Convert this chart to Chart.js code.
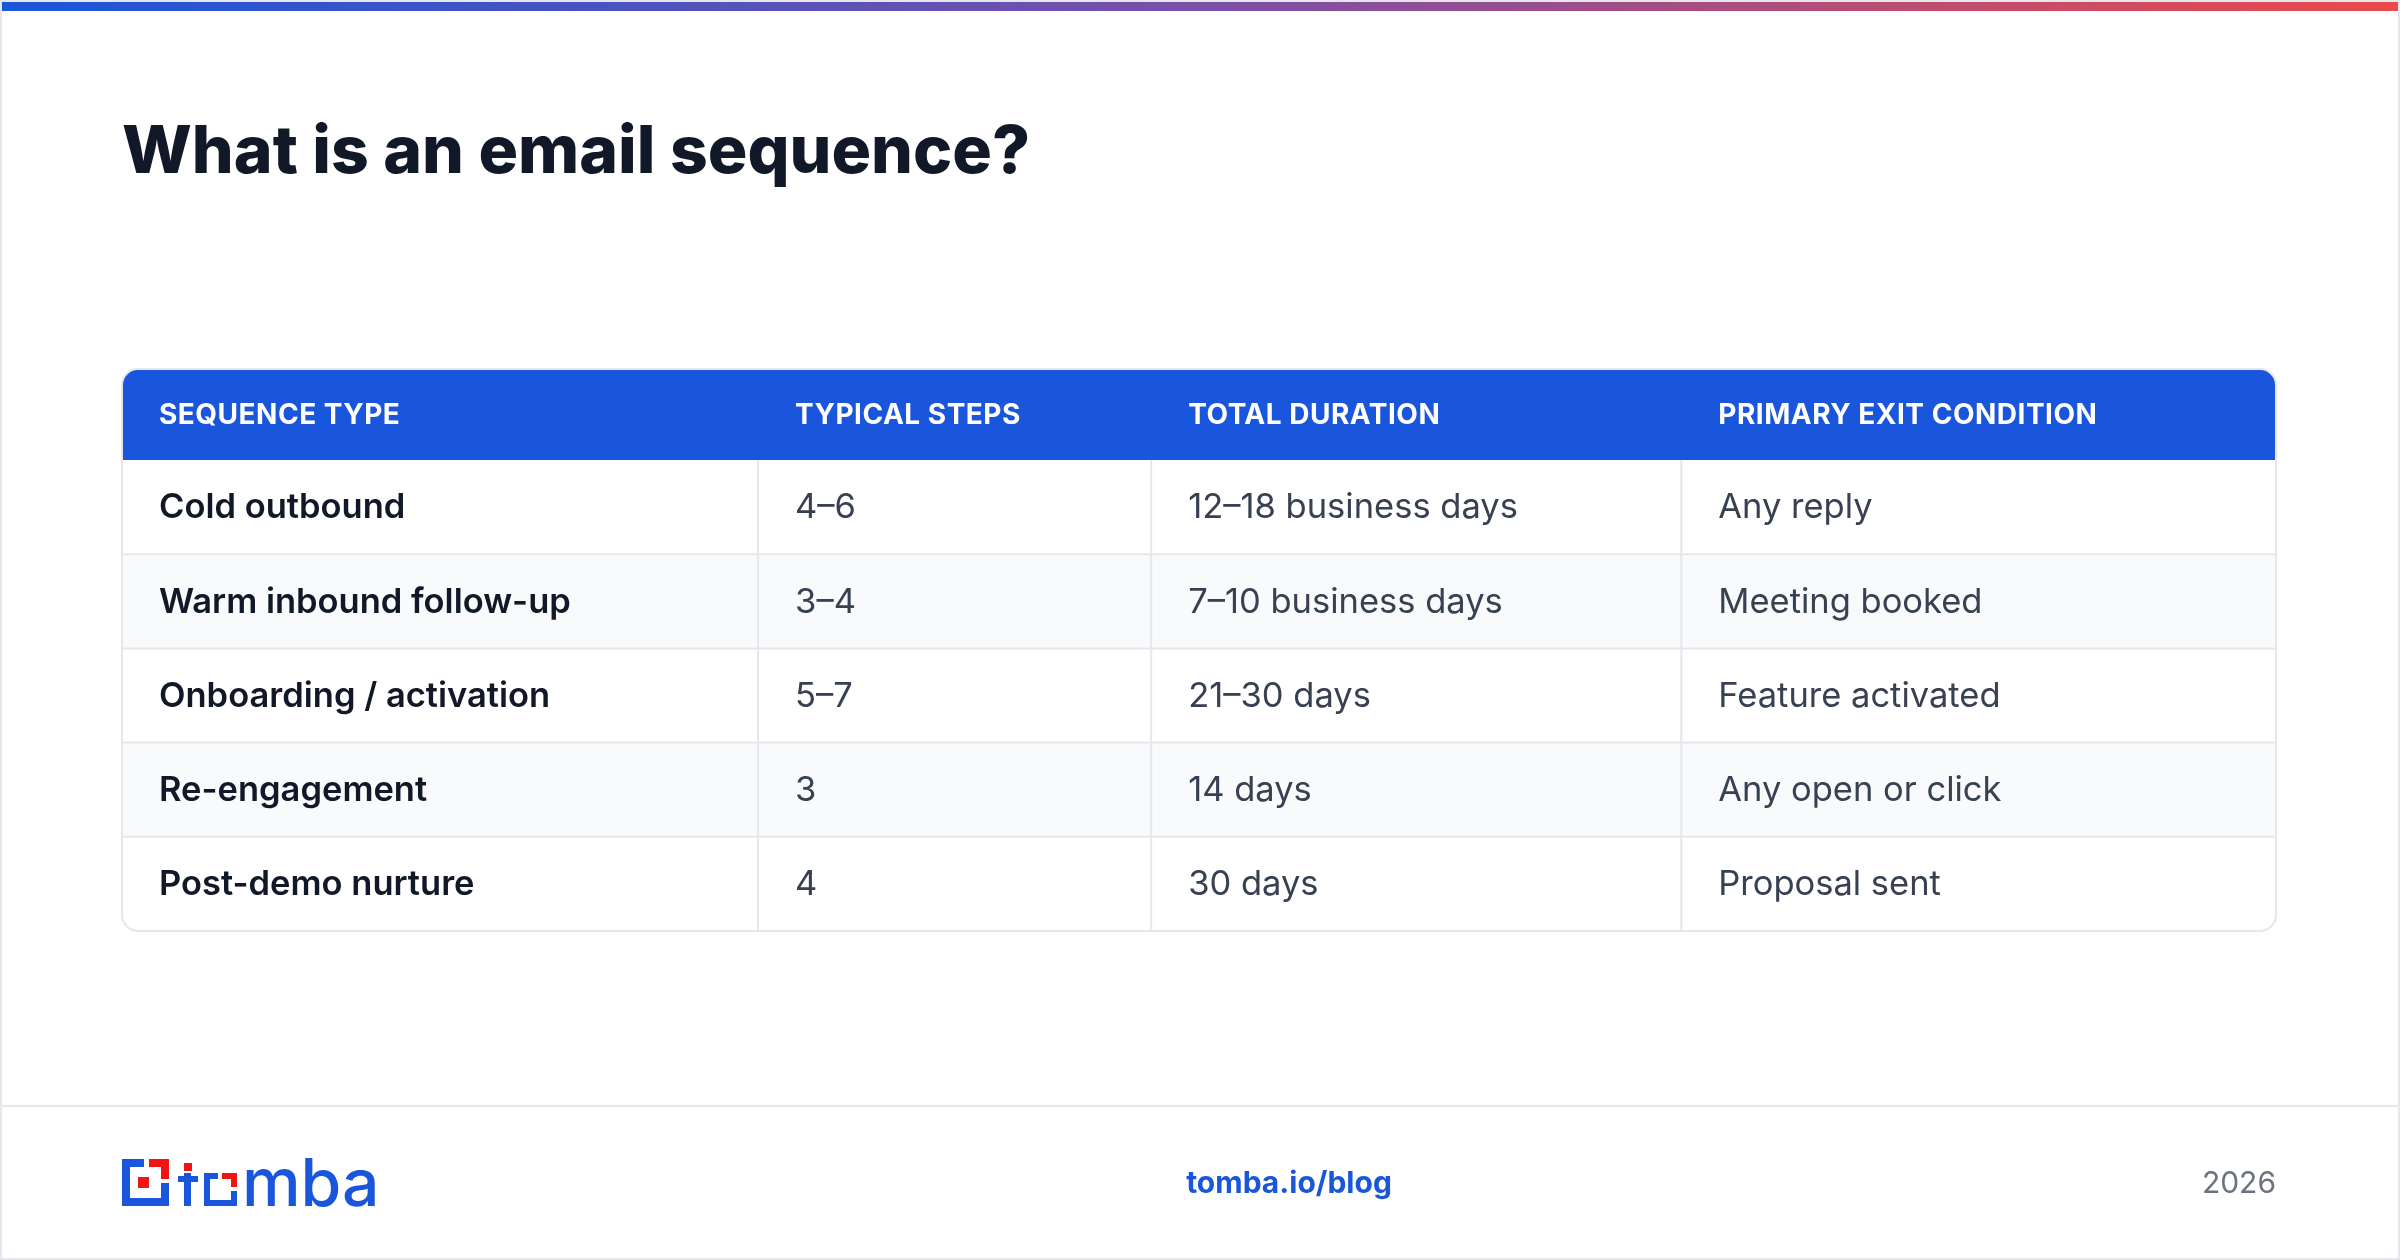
<!DOCTYPE html>
<html>
<head>
<meta charset="utf-8">
<script src="https://cdn.jsdelivr.net/npm/chart.js@4.4.1/dist/chart.umd.min.js"></script>
<style>
  html, body { margin: 0; padding: 0; background: #fff; }
  #wrap { width: 2400px; height: 1260px; position: relative; }
</style>
</head>
<body>
<div id="wrap"><canvas id="table" width="2400" height="1260"></canvas></div>
<script>
// Table content
const headers = ['SEQUENCE TYPE', 'TYPICAL STEPS', 'TOTAL DURATION', 'PRIMARY EXIT CONDITION'];
const sequenceTypes = ['Cold outbound', 'Warm inbound follow-up', 'Onboarding / activation', 'Re-engagement', 'Post-demo nurture'];
const typicalSteps = ['4–6', '3–4', '5–7', '3', '4'];
const totalDuration = ['12–18 business days', '7–10 business days', '21–30 days', '14 days', '30 days'];
const exitCondition = ['Any reply', 'Meeting booked', 'Feature activated', 'Any open or click', 'Proposal sent'];

// Layout (column start positions as fraction of table width)
const colStarts = [0, 0.2953, 0.4778, 0.7239];
const FONT = 'Inter, "Noto Sans", sans-serif';

const tablePlugin = {
  id: 'tablePlugin',
  beforeDraw(chart) {
    const ctx = chart.ctx;
    const x = chart.scales.x, y = chart.scales.y;
    const left = x.getPixelForValue(0), right = x.getPixelForValue(1);
    const W = chart.width, H = chart.height;
    ctx.save();
    ctx.fillStyle = '#fff';
    ctx.fillRect(0, 0, W, H);

    // top gradient bar
    const g = ctx.createLinearGradient(0, 0, W, 0);
    g.addColorStop(0, '#1a56db');
    g.addColorStop(0.5, '#7a4fa8');
    g.addColorStop(1, '#ea4a4a');
    ctx.fillStyle = g;
    ctx.fillRect(0, 0, W, 11);

    // outer frame
    ctx.strokeStyle = '#e5e7eb';
    ctx.lineWidth = 2;
    ctx.strokeRect(1, 1, W - 2, H - 2);

    // title
    ctx.fillStyle = '#111827';
    ctx.font = `800 66px ${FONT}`;
    ctx.textBaseline = 'middle';
    ctx.textAlign = 'left';
    ctx.fillText('What is an email sequence?', 122, 153);

    const rowH = y.getPixelForValue(1) - y.getPixelForValue(0);
    const bodyTop = y.getPixelForValue(0) - rowH / 2;
    const bodyBottom = y.getPixelForValue(sequenceTypes.length - 1) + rowH / 2;
    const headTop = 369, r = 16;

    // table outline clip
    ctx.beginPath();
    ctx.roundRect(left, headTop, right - left, bodyBottom - headTop, r);
    ctx.save();
    ctx.clip();
    ctx.fillStyle = '#1a56db';
    ctx.fillRect(left, headTop, right - left, bodyTop - headTop);
    sequenceTypes.forEach((_, i) => {
      const cy = y.getPixelForValue(i);
      ctx.fillStyle = i % 2 ? '#f8fafc' : '#ffffff';
      ctx.fillRect(left, cy - rowH / 2, right - left, rowH);
    });
    ctx.restore();

    // grid lines
    ctx.strokeStyle = '#e5e7eb';
    ctx.lineWidth = 2;
    for (let i = 1; i < sequenceTypes.length; i++) {
      const ly = y.getPixelForValue(i) - rowH / 2;
      ctx.beginPath(); ctx.moveTo(left, ly); ctx.lineTo(right, ly); ctx.stroke();
    }
    colStarts.slice(1).forEach(c => {
      const lx = x.getPixelForValue(c);
      ctx.beginPath(); ctx.moveTo(lx, bodyTop); ctx.lineTo(lx, bodyBottom); ctx.stroke();
    });
    ctx.beginPath();
    ctx.roundRect(left, headTop, right - left, bodyBottom - headTop, r);
    ctx.stroke();

    // header text
    const pad = 37;
    ctx.fillStyle = '#ffffff';
    ctx.font = `700 28px ${FONT}`;
    ctx.letterSpacing = '0.5px';
    headers.forEach((h, j) => {
      ctx.fillText(h, x.getPixelForValue(colStarts[j]) + pad, (headTop + bodyTop) / 2 + 1);
    });
    ctx.letterSpacing = '0px';

    // body text
    const cols = [sequenceTypes, typicalSteps, totalDuration, exitCondition];
    cols.forEach((col, j) => {
      ctx.font = j === 0 ? `600 34.5px ${FONT}` : `400 34.5px ${FONT}`;
      ctx.fillStyle = j === 0 ? '#111827' : '#374151';
      col.forEach((t, i) => {
        ctx.fillText(t, x.getPixelForValue(colStarts[j]) + pad, y.getPixelForValue(i) + 1);
      });
    });

    // footer
    ctx.strokeStyle = '#e5e7eb';
    ctx.beginPath(); ctx.moveTo(0, 1106); ctx.lineTo(W, 1106); ctx.stroke();
    const fy = 1184;
    ctx.font = `700 30px ${FONT}`;
    ctx.fillStyle = '#1a56db';
    ctx.textAlign = 'center';
    ctx.fillText('tomba.io/blog', 1289, fy);
    ctx.textAlign = 'right';
    ctx.font = `400 30px ${FONT}`;
    ctx.fillStyle = '#6b7280';
    ctx.fillText('2026', 2276, fy);

    // logo
    const blue = '#1a56db', red = '#f01414';
    ctx.fillStyle = blue;
    const lx = 122, ly = 1159, s = 47, t = 8;
    ctx.fillRect(lx, ly, 22, t);
    ctx.fillRect(lx, ly, t, s);
    ctx.fillRect(lx, ly + s - t, s, t);
    ctx.fillRect(lx + s - t, ly + 24, t, s - 24);
    ctx.fillStyle = red;
    ctx.fillRect(lx + 27, ly, 20, t);
    ctx.fillRect(lx + s - t, ly, t, 20);
    ctx.fillRect(lx + 16, ly + 18, 11, 11);
    // "t"
    ctx.fillStyle = red;
    ctx.fillRect(lx + 62, ly + 4, 8, 8);
    ctx.fillStyle = blue;
    ctx.fillRect(lx + 62, ly + 14, 7, 33);
    ctx.fillRect(lx + 56, ly + 17, 20, 6);
    // square "o"
    const ox = lx + 82, oy = ly + 14, os = 33, ot = 6;
    ctx.fillRect(ox, oy, ot, os);
    ctx.fillRect(ox, oy + os - ot, os, ot);
    ctx.fillRect(ox, oy, 14, ot);
    ctx.fillRect(ox + os - ot, oy + 18, ot, os - 18);
    ctx.fillStyle = red;
    ctx.fillRect(ox + 18, oy, 15, ot);
    ctx.fillRect(ox + os - ot, oy, ot, 14);
    ctx.fillStyle = blue;
    ctx.textAlign = 'left';
    ctx.textBaseline = 'alphabetic';
    ctx.font = `500 66px ${FONT}`;
    ctx.fillText('mba', ox + os + 5, ly + s);
    ctx.restore();
  }
};

new Chart(document.getElementById('table'), {
  type: 'scatter',
  data: { datasets: [{ data: [], pointRadius: 0 }] },
  options: {
    responsive: false,
    animation: false,
    devicePixelRatio: 1,
    layout: { padding: { left: 122, right: 124, top: 460, bottom: 329 } },
    plugins: { legend: { display: false }, tooltip: { enabled: false } },
    scales: {
      x: { type: 'linear', min: 0, max: 1, display: false },
      y: { type: 'category', labels: sequenceTypes, offset: true, display: false }
    }
  },
  plugins: [tablePlugin]
});
</script>
</body>
</html>
